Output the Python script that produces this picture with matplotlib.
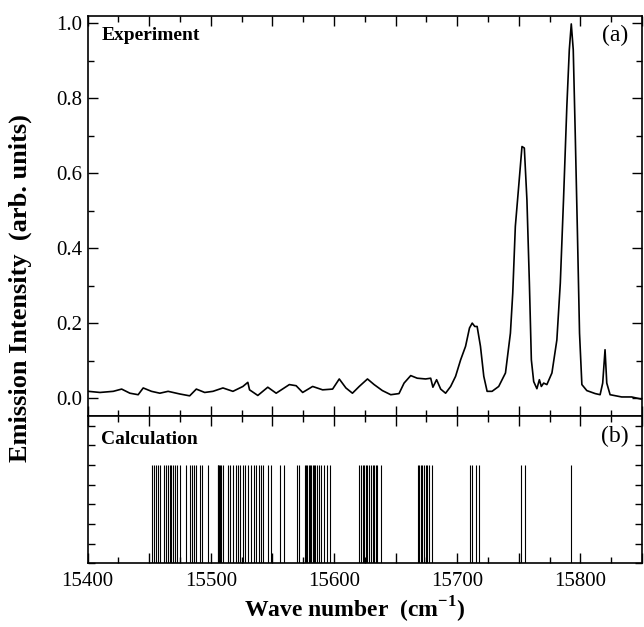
import numpy as np
import matplotlib
matplotlib.use('Agg')
import matplotlib.pyplot as plt
from matplotlib.ticker import MultipleLocator, FuncFormatter

plt.rcParams['font.family'] = 'Liberation Serif'
plt.rcParams['mathtext.fontset'] = 'custom'
plt.rcParams['mathtext.rm'] = 'Liberation Serif'
plt.rcParams['mathtext.bf'] = 'Liberation Serif:bold'

wave = [15400.7, 15410.1, 15420.9, 15427.7, 15434.4, 15441.1, 15445.2, 15451.9,
        15458.7, 15465.4, 15474.8, 15482.9, 15488.3, 15495.1, 15501.8, 15509.9,
        15518.0, 15526.1, 15530.1, 15531.5, 15538.2, 15546.3, 15553.1, 15563.8,
        15569.3, 15574.6, 15582.7, 15590.8, 15598.9, 15604.3, 15609.7, 15615.0,
        15620.5, 15627.2, 15632.6, 15639.3, 15646.1, 15652.8, 15656.9, 15662.3,
        15667.6, 15674.4, 15678.5, 15680.3, 15683.3, 15686.6, 15690.6, 15694.7,
        15698.7, 15702.8, 15706.8, 15710.0, 15712.2, 15714.3, 15716.2, 15718.9,
        15721.6, 15724.3, 15728.3, 15733.7, 15739.2, 15743.2, 15745.1, 15747.2,
        15749.9, 15752.6, 15754.5, 15756.6, 15758.6, 15760.2, 15762.1, 15764.7,
        15766.7, 15768.3, 15770.2, 15772.8, 15776.9, 15780.9, 15783.7, 15786.3,
        15789.0, 15791.0, 15792.6, 15794.2, 15795.8, 15797.6, 15799.3, 15801.2,
        15805.2, 15812.0, 15816.0, 15818.1, 15820.0, 15821.4, 15824.1, 15833.5,
        15841.6, 15849.7]
intensity = [0.018, 0.015, 0.018, 0.024, 0.013, 0.009, 0.027, 0.018,
             0.013, 0.018, 0.011, 0.006, 0.024, 0.015, 0.018, 0.027,
             0.018, 0.031, 0.042, 0.022, 0.007, 0.029, 0.013, 0.036,
             0.033, 0.015, 0.031, 0.022, 0.024, 0.051, 0.027, 0.013,
             0.031, 0.051, 0.036, 0.020, 0.009, 0.012, 0.040, 0.060,
             0.053, 0.051, 0.053, 0.029, 0.049, 0.024, 0.013, 0.031,
             0.058, 0.102, 0.138, 0.187, 0.200, 0.191, 0.191, 0.138,
             0.058, 0.018, 0.018, 0.031, 0.067, 0.173, 0.280, 0.458,
             0.564, 0.671, 0.667, 0.529, 0.307, 0.102, 0.044, 0.025,
             0.049, 0.031, 0.040, 0.036, 0.067, 0.155, 0.307, 0.529,
             0.778, 0.929, 0.998, 0.929, 0.707, 0.440, 0.173, 0.036,
             0.020, 0.012, 0.009, 0.040, 0.129, 0.040, 0.009, 0.003,
             0.003, -0.003]

# calculated line positions
lines_calc = [15452.7, 15453.8, 15455.4, 15457.6, 15458.7, 15461.9, 15463.5, 15465.4,
              15466.7, 15468.1, 15469.4, 15470.8, 15473.0, 15474.8, 15480.2, 15482.9,
              15485.1, 15486.2, 15487.8, 15491.6, 15493.2, 15498.0, 15505.6, 15506.1,
              15506.6, 15507.2, 15508.6, 15509.9, 15513.7, 15515.8, 15518.3, 15520.1,
              15522.0, 15523.9, 15526.1, 15527.7, 15530.1, 15532.8, 15535.5, 15536.8,
              15538.8, 15540.9, 15542.8, 15546.3, 15549.0, 15556.3, 15559.5, 15569.7,
              15571.9, 15576.5, 15577.3, 15578.4, 15579.4, 15580.6, 15581.4, 15582.7,
              15583.8, 15584.9, 15585.9, 15587.5, 15589.5, 15591.6, 15594.0, 15596.8,
              15620.5, 15621.8, 15623.2, 15624.5, 15625.9, 15627.2, 15628.6, 15629.9,
              15631.3, 15632.6, 15634.0, 15635.3, 15638.0, 15668.2, 15669.3, 15670.4,
              15671.7, 15673.1, 15674.4, 15675.7, 15677.1, 15679.3, 15710.8, 15712.1,
              15714.9, 15718.1, 15751.8, 15755.3, 15792.6]
line_height = 5

fig = plt.figure(figsize=(6.44, 6.27), dpi=100)
ax1 = fig.add_axes([0.1359, 0.337, 0.861, 0.638])
ax2 = fig.add_axes([0.1359, 0.1016, 0.861, 0.2354], sharex=ax1)

ax1.plot(wave, intensity, color='black', lw=1.2)
ax2.vlines(lines_calc, 0, line_height, color='black', lw=0.8)

ax1.set_xlim(15400, 15850)
ax1.set_ylim(-0.047, 1.02)
ax2.set_ylim(0, 7.5)

for ax in (ax1, ax2):
    ax.xaxis.set_major_locator(MultipleLocator(50))
    ax.xaxis.set_minor_locator(MultipleLocator(25))
    ax.tick_params(which='both', direction='in', top=True, right=True, width=1)
    ax.tick_params(which='major', length=7)
    ax.tick_params(which='minor', length=4)
    for s in ax.spines.values():
        s.set_linewidth(1.2)

ax1.yaxis.set_major_locator(MultipleLocator(0.2))
ax1.yaxis.set_minor_locator(MultipleLocator(0.1))
ax1.yaxis.set_major_formatter(FuncFormatter(lambda v, p: '%.1f' % v))
ax1.tick_params(axis='x', labelbottom=False)
ax1.tick_params(axis='y', labelsize=15)

ax2.yaxis.set_major_locator(MultipleLocator(1))
ax2.tick_params(axis='y', labelleft=False, length=5)
ax2.xaxis.set_major_formatter(FuncFormatter(lambda v, p: '%d' % v if v % 100 == 0 else ''))
ax2.tick_params(axis='x', labelsize=15, pad=6)

ax1.text(0.025, 0.95, 'Experiment', transform=ax1.transAxes, fontsize=14,
         fontweight='bold', va='center')
ax1.text(0.975, 0.95, '(a)', transform=ax1.transAxes, fontsize=17,
         ha='right', va='center')
ax2.text(0.025, 0.84, 'Calculation', transform=ax2.transAxes, fontsize=14,
         fontweight='bold', va='center')
ax2.text(0.975, 0.86, '(b)', transform=ax2.transAxes, fontsize=17,
         ha='right', va='center')

fig.text(0.032, 0.54, 'Emission Intensity  (arb. units)', rotation=90,
         fontsize=19, fontweight='bold', ha='center', va='center')
fig.text(0.55, 0.027, r'Wave number  (cm$^{\mathbf{-1}}$)', fontsize=17,
         fontweight='bold', ha='center', va='center')

fig.savefig('out.png', dpi=100)
